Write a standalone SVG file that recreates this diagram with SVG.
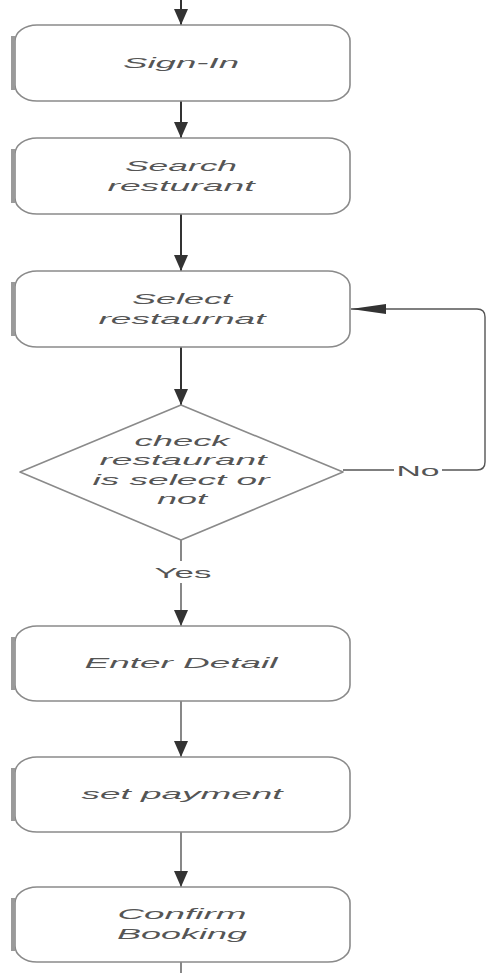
<svg xmlns="http://www.w3.org/2000/svg" width="486" height="973" viewBox="0 0 486 973">
<style>
.box{fill:#fff;stroke:#8a8a8a;stroke-width:1.6}
.bar{fill:#9a9a9a}
.t{font-family:"Liberation Sans",Arial,sans-serif;font-style:italic;font-size:15px;fill:#555;text-anchor:middle;dominant-baseline:central}
.lbl{font-family:"Liberation Sans",Arial,sans-serif;font-size:15px;fill:#555;text-anchor:middle;dominant-baseline:central}
.c{fill:none;stroke:#333;stroke-width:2}
.c2{fill:none;stroke:#555;stroke-width:1.4}
</style>
<defs>
<marker id="ah" markerUnits="userSpaceOnUse" markerWidth="16" markerHeight="16" refX="16" refY="7" orient="auto">
<path d="M0,0 L16,7 L0,14 Z" fill="#333"/>
</marker>
<marker id="ah2" markerUnits="userSpaceOnUse" markerWidth="36" markerHeight="12" refX="35" refY="5" orient="auto">
<path d="M0,0 L35,5 L0,10 Z" fill="#333"/>
</marker>
</defs>
<rect width="486" height="973" fill="#fff"/>
<g id="connectors">
<path class="c" d="M181,0 V25" marker-end="url(#ah)"/>
<path class="c" d="M181,101 V138" marker-end="url(#ah)"/>
<path class="c" d="M181,214 V271" marker-end="url(#ah)"/>
<path class="c" d="M181,347 V405" marker-end="url(#ah)"/>
<path class="c2" d="M343,470 H477 Q485,470 485,462 V317 Q485,309 477,309 H351" marker-end="url(#ah2)"/>
<rect x="394" y="460" width="48" height="20" fill="#fff"/>
<text class="lbl" x="418" y="470" textLength="43" lengthAdjust="spacingAndGlyphs">No</text>
<path class="c2" d="M181,540 V626" marker-end="url(#ah)"/>
<rect x="150" y="561" width="66" height="22" fill="#fff"/>
<text class="lbl" x="183" y="572" textLength="57" lengthAdjust="spacingAndGlyphs">Yes</text>
<path class="c2" d="M181,701 V757" marker-end="url(#ah)"/>
<path class="c2" d="M181,832 V887" marker-end="url(#ah)"/>
<path class="c2" d="M181,962 V973"/>
</g>
<g id="signin">
<rect class="box" x="15" y="25" width="335" height="76" rx="22" ry="16"/>
<rect class="bar" x="11" y="36" width="4" height="54"/>
<text class="t" x="181" y="62" textLength="116" lengthAdjust="spacingAndGlyphs">Sign-In</text>
</g>
<g id="search">
<rect class="box" x="15" y="138" width="335" height="76" rx="22" ry="16"/>
<rect class="bar" x="11" y="149" width="4" height="54"/>
<text class="t" x="181" y="165" textLength="112" lengthAdjust="spacingAndGlyphs">Search</text>
<text class="t" x="181" y="185" textLength="147" lengthAdjust="spacingAndGlyphs">resturant</text>
</g>
<g id="select">
<rect class="box" x="15" y="271" width="335" height="76" rx="22" ry="16"/>
<rect class="bar" x="11" y="282" width="4" height="54"/>
<text class="t" x="182" y="298" textLength="100" lengthAdjust="spacingAndGlyphs">Select</text>
<text class="t" x="182" y="318" textLength="167" lengthAdjust="spacingAndGlyphs">restaurnat</text>
</g>
<g id="check">
<path class="box" d="M181,405 L343,472 L181,540 L20,472 Z" stroke-linejoin="round"/>
<text class="t" x="182" y="440" textLength="95" lengthAdjust="spacingAndGlyphs">check</text>
<text class="t" x="183" y="459" textLength="167" lengthAdjust="spacingAndGlyphs">restaurant</text>
<text class="t" x="181" y="479" textLength="177" lengthAdjust="spacingAndGlyphs">is select or</text>
<text class="t" x="182" y="498" textLength="50" lengthAdjust="spacingAndGlyphs">not</text>
</g>
<g id="enter">
<rect class="box" x="15" y="626" width="335" height="75" rx="22" ry="16"/>
<rect class="bar" x="11" y="637" width="4" height="53"/>
<text class="t" x="181" y="662" textLength="193" lengthAdjust="spacingAndGlyphs">Enter Detail</text>
</g>
<g id="payment">
<rect class="box" x="15" y="757" width="335" height="75" rx="22" ry="16"/>
<rect class="bar" x="11" y="768" width="4" height="53"/>
<text class="t" x="182" y="793" textLength="201" lengthAdjust="spacingAndGlyphs">set payment</text>
</g>
<g id="confirm">
<rect class="box" x="15" y="887" width="335" height="75" rx="22" ry="16"/>
<rect class="bar" x="11" y="898" width="4" height="53"/>
<text class="t" x="182" y="913" textLength="129" lengthAdjust="spacingAndGlyphs">Confirm</text>
<text class="t" x="182" y="933" textLength="130" lengthAdjust="spacingAndGlyphs">Booking</text>
</g>
</svg>
